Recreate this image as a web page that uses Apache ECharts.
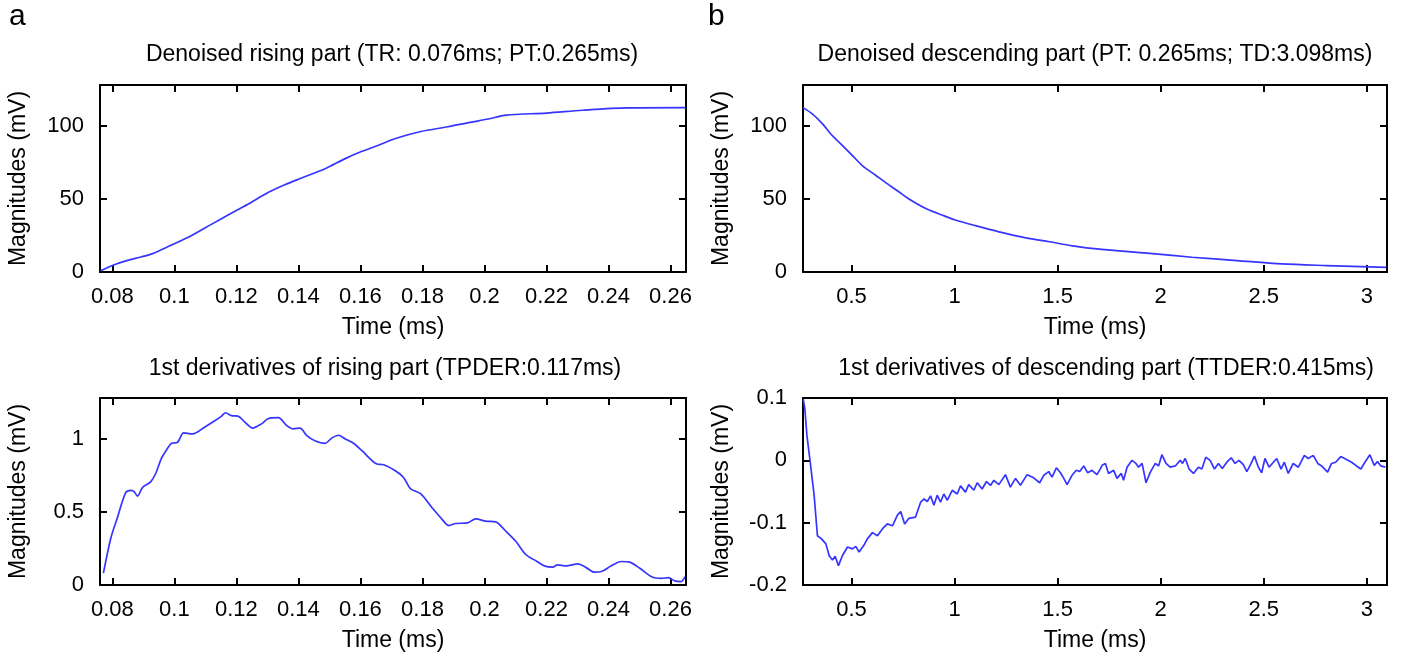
<!DOCTYPE html>
<html>
<head>
<meta charset="utf-8">
<script src="https://cdn.jsdelivr.net/npm/echarts@6/dist/echarts.min.js"></script>
<style>
  html, body { margin: 0; padding: 0; background: #fff; }
  #chart { width: 1401px; height: 658px; }
</style>
</head>
<body>
<div id="chart"></div>
<script>
// denoised rising part
const riseT = [0.0762, 0.0806, 0.0849, 0.0892, 0.0930, 0.0967, 0.1000, 0.1054, 0.1119, 0.1173,
  0.1237, 0.1302, 0.1356, 0.1410, 0.1486, 0.1551, 0.1605, 0.1658, 0.1713, 0.1795,
  0.1882, 0.1954, 0.2012, 0.2070, 0.2200, 0.2316, 0.2461, 0.2648];
const riseV = [0.8, 5.0, 8.0, 10.3, 12.6, 16.1, 19.3, 24.8, 32.6, 39.0,
  46.4, 54.4, 59.7, 64.3, 70.7, 77.6, 82.6, 86.8, 91.4, 96.2,
  99.4, 102.4, 104.7, 107.4, 108.8, 110.7, 112.3, 112.5];

// denoised descending part
const descT = [0.265, 0.313, 0.362, 0.402, 0.443, 0.5, 0.557, 0.614, 0.663, 0.728,
  0.777, 0.858, 0.939, 1.004, 1.102, 1.216, 1.346, 1.460, 1.573, 1.703,
  1.934, 2.152, 2.370, 2.588, 2.806, 3.095];
const descV = [112.5, 107.9, 101.0, 94.1, 88.4, 80.4, 72.3, 66.6, 61.5, 55.1,
  50.1, 43.6, 39.0, 35.6, 31.7, 27.5, 23.4, 20.7, 17.9, 15.6,
  12.9, 10.1, 7.8, 5.5, 4.4, 3.2];

// 1st derivative of rising part
const riseDerT = [0.0771, 0.0795, 0.0816, 0.0843, 0.0860, 0.0870, 0.0881, 0.0897, 0.0924, 0.0941,
  0.0957, 0.0973, 0.0991, 0.1009, 0.1030, 0.1059, 0.1097, 0.1129, 0.1151, 0.1165,
  0.1184, 0.1205, 0.1227, 0.1252, 0.1281, 0.1302, 0.1335, 0.1362, 0.1383, 0.1405,
  0.1427, 0.1453, 0.1486, 0.1507, 0.1529, 0.1551, 0.1578, 0.1605, 0.1653, 0.1675,
  0.1710, 0.1739, 0.1761, 0.1794, 0.1831, 0.1864, 0.1885, 0.1907, 0.1945, 0.1972,
  0.2004, 0.2036, 0.2069, 0.2101, 0.2134, 0.2161, 0.2193, 0.2220, 0.2236, 0.2263,
  0.2301, 0.2328, 0.2355, 0.2377, 0.2409, 0.2441, 0.2468, 0.2501, 0.2539, 0.2571,
  0.2593, 0.2614, 0.2634, 0.2647];
const riseDerV = [0.081, 0.322, 0.46, 0.632, 0.648, 0.639, 0.609, 0.667, 0.708, 0.770,
  0.862, 0.919, 0.970, 0.975, 1.041, 1.034, 1.080, 1.122, 1.154, 1.179,
  1.159, 1.156, 1.115, 1.074, 1.103, 1.138, 1.145, 1.092, 1.069, 1.074,
  1.023, 0.988, 0.970, 1.005, 1.025, 1.0, 0.970, 0.919, 0.828, 0.823,
  0.785, 0.736, 0.66, 0.625, 0.529, 0.448, 0.407, 0.421, 0.425, 0.453,
  0.437, 0.432, 0.368, 0.299, 0.207, 0.172, 0.131, 0.122, 0.138, 0.131,
  0.145, 0.119, 0.088, 0.092, 0.131, 0.161, 0.157, 0.115, 0.057, 0.046,
  0.050, 0.028, 0.023, 0.057];

// 1st derivative of descending part
const descDerT = [0.266, 0.274, 0.284, 0.300, 0.319, 0.335, 0.355, 0.376, 0.392, 0.408,
  0.421, 0.437, 0.456, 0.481, 0.505, 0.521, 0.537, 0.561, 0.577, 0.602,
  0.626, 0.650, 0.674, 0.699, 0.723, 0.739, 0.758, 0.779, 0.811, 0.836,
  0.852, 0.868, 0.884, 0.900, 0.916, 0.932, 0.948, 0.965, 0.989, 1.013,
  1.029, 1.053, 1.069, 1.094, 1.110, 1.134, 1.155, 1.175, 1.191, 1.215,
  1.247, 1.271, 1.296, 1.320, 1.352, 1.384, 1.413, 1.433, 1.457, 1.473,
  1.494, 1.514, 1.530, 1.546, 1.570, 1.591, 1.607, 1.627, 1.646, 1.667,
  1.691, 1.707, 1.716, 1.732, 1.747, 1.772, 1.788, 1.809, 1.820, 1.837,
  1.861, 1.880, 1.893, 1.910, 1.929, 1.950, 1.974, 1.990, 2.006, 2.026,
  2.046, 2.071, 2.095, 2.106, 2.119, 2.138, 2.159, 2.183, 2.200, 2.219,
  2.240, 2.261, 2.280, 2.299, 2.321, 2.342, 2.361, 2.380, 2.401, 2.418,
  2.439, 2.455, 2.474, 2.490, 2.506, 2.526, 2.547, 2.563, 2.584, 2.600,
  2.619, 2.643, 2.668, 2.697, 2.716, 2.740, 2.762, 2.781, 2.810, 2.829,
  2.849, 2.874, 2.897, 2.926, 2.950, 2.971, 2.991, 3.015, 3.036, 3.052,
  3.068, 3.090];
const descDerV = [0.098, 0.083, 0.040, -0.003, -0.056, -0.121, -0.126, -0.134, -0.153, -0.160,
  -0.154, -0.169, -0.153, -0.139, -0.142, -0.138, -0.147, -0.136, -0.126, -0.116,
  -0.121, -0.110, -0.102, -0.105, -0.088, -0.082, -0.102, -0.093, -0.091, -0.067,
  -0.062, -0.066, -0.057, -0.072, -0.056, -0.067, -0.054, -0.064, -0.048, -0.054,
  -0.041, -0.051, -0.039, -0.048, -0.036, -0.046, -0.034, -0.040, -0.032, -0.039,
  -0.023, -0.043, -0.029, -0.040, -0.023, -0.028, -0.036, -0.024, -0.018, -0.027,
  -0.012, -0.020, -0.029, -0.039, -0.024, -0.016, -0.018, -0.009, -0.020, -0.016,
  -0.023, -0.014, -0.008, -0.005, -0.021, -0.016, -0.029, -0.021, -0.032, -0.011,
  0.000, -0.005, -0.011, -0.005, -0.036, -0.019, -0.005, -0.009, 0.009, -0.005,
  -0.011, -0.009, 0.000, -0.005, 0.003, -0.014, -0.021, -0.011, -0.014, 0.005,
  0.000, -0.014, -0.005, -0.013, -0.003, 0.004, -0.005, 0.000, -0.007, -0.018,
  -0.005, 0.007, -0.011, -0.020, 0.003, -0.011, -0.003, 0.003, -0.014, -0.003,
  -0.021, -0.005, -0.011, 0.008, 0.003, 0.008, -0.005, -0.009, -0.019, -0.005,
  -0.003, 0.006, 0.002, -0.003, -0.009, -0.014, -0.003, 0.009, -0.008, -0.002,
  -0.009, -0.011];

// ticks
const riseTicks = [0.08, 0.1, 0.12, 0.14, 0.16, 0.18, 0.2, 0.22, 0.24, 0.26];
const descTicks = [0.5, 1, 1.5, 2, 2.5, 3];
const mvTicks = [0, 50, 100];
const riseDerTicks = [0, 0.5, 1];
const descDerTicks = [-0.2, -0.1, 0, 0.1];

const titles = [
  'Denoised rising part (TR: 0.076ms; PT:0.265ms)',
  'Denoised descending part (PT: 0.265ms; TD:3.098ms)',
  '1st derivatives of rising part (TPDER:0.117ms)',
  '1st derivatives of descending part (TTDER:0.415ms)'
];

const font = "'Liberation Sans', Arial, sans-serif";
const lineColor = '#3535ff';

const grids = [
  {left: 100, top: 85, width: 586, height: 187},
  {left: 803, top: 85, width: 584, height: 187},
  {left: 100, top: 398, width: 586, height: 187},
  {left: 803, top: 398, width: 584, height: 187}
];

const fmt = v => String(+(+v).toFixed(3));

let xAxes = [];
let yAxes = [];

function addAxes(gi, xMin, xMax, xTicks, yMin, yMax, yTicks) {
  let line = {show: true, onZero: false, lineStyle: {color: '#000', width: 2}};
  let tick = t => ({show: true, inside: true, length: 7, customValues: t, lineStyle: {color: '#000', width: 2}});
  let label = (t, m) => ({show: true, customValues: t, formatter: fmt, color: '#000', fontSize: 22, fontFamily: font, margin: m});
  let nameStyle = {color: '#000', fontSize: 23, fontFamily: font};
  xAxes.push({
    type: 'value', gridIndex: gi, min: xMin, max: xMax, position: 'bottom',
    axisLine: line, axisTick: tick(xTicks), axisLabel: label(xTicks, 14),
    splitLine: {show: false},
    name: 'Time (ms)', nameLocation: 'middle', nameGap: 44, nameTextStyle: nameStyle
  });
  xAxes.push({
    type: 'value', gridIndex: gi, min: xMin, max: xMax, position: 'top',
    axisLine: line, axisTick: tick(xTicks), axisLabel: {show: false}, splitLine: {show: false}
  });
  yAxes.push({
    type: 'value', gridIndex: gi, min: yMin, max: yMax, position: 'left',
    axisLine: line, axisTick: tick(yTicks), axisLabel: label(yTicks, 16),
    splitLine: {show: false},
    name: 'Magnitudes (mV)', nameLocation: 'middle', nameGap: 70, nameTextStyle: nameStyle
  });
  yAxes.push({
    type: 'value', gridIndex: gi, min: yMin, max: yMax, position: 'right',
    axisLine: line, axisTick: tick(yTicks), axisLabel: {show: false}, splitLine: {show: false}
  });
}

addAxes(0, 0.076, 0.265, riseTicks, 0, 128, mvTicks);
addAxes(1, 0.265, 3.098, descTicks, 0, 128, mvTicks);
addAxes(2, 0.076, 0.265, riseTicks, 0, 1.28, riseDerTicks);
addAxes(3, 0.265, 3.098, descTicks, -0.2, 0.1, descDerTicks);

const zip = (a, b) => a.map((d, i) => [d, b[i]]);

const seriesData = [
  zip(riseT, riseV),
  zip(descT, descV),
  zip(riseDerT, riseDerV),
  zip(descDerT, descDerV)
];

let series = seriesData.map((d, i) => ({
  type: 'line',
  xAxisIndex: i * 2,
  yAxisIndex: i * 2,
  data: d,
  showSymbol: false,
  smooth: i === 3 ? false : 0.3,
  lineStyle: {color: lineColor, width: 1.7},
  animation: false
}));

const titleX = [392, 1095, 385, 1106];
const titleY = [43, 43, 357, 357];

let title = titles.map((t, i) => ({
  text: t, left: titleX[i], top: titleY[i], textAlign: 'center', padding: 0,
  textStyle: {color: '#000', fontSize: 23, fontWeight: 'normal', fontFamily: font}
}));
title.push({text: 'a', left: 9, top: 2, padding: 0, textStyle: {color: '#000', fontSize: 30, fontWeight: 'normal', fontFamily: font}});
title.push({text: 'b', left: 708, top: 2, padding: 0, textStyle: {color: '#000', fontSize: 30, fontWeight: 'normal', fontFamily: font}});

let chart = echarts.init(document.getElementById('chart'));
chart.setOption({
  animation: false,
  backgroundColor: '#fff',
  title: title,
  grid: grids,
  xAxis: xAxes,
  yAxis: yAxes,
  series: series
});
</script>
</body>
</html>
